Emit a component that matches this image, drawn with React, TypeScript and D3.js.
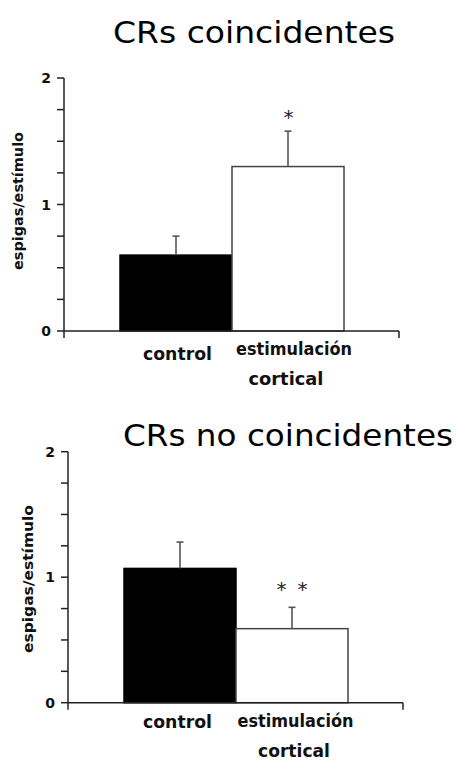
import React from "react";
import * as d3 from "d3";

// Data
const categories = ["control", "estimulación cortical"];
const coincidentMeans = [0.6, 1.3];
const coincidentErrors = [0.15, 0.28];
const coincidentMarks = ["", "*"];
const nonCoincidentMeans = [1.07, 0.59];
const nonCoincidentErrors = [0.21, 0.17];
const nonCoincidentMarks = ["", "* *"];
const majorTicks = [0, 1, 2];
const minorTicks = [0.25, 0.5, 0.75, 1.25, 1.5, 1.75];
const yLabel = "espigas/estímulo";

const W = 456;
const H = 760;
const FONT = "'Comic Sans MS', 'DejaVu Sans', sans-serif";
const AXIS_FONT = "'DejaVu Sans', 'Noto Sans', sans-serif";

type Layout = {
  axisX: number;
  yZero: number;
  yTop: number;
  xEnd: number;
  barLeft: number;
  barRight: number;
  titleX: number;
  titleY: number;
  titleLen: number;
  labelX: number;
  labelY: number;
  labelLen: number;
  catY: number;
  stimY: number;
  cortY: number;
  ctrlX: number;
  stimX: number;
  cortX: number;
  cortLen: number;
  markGap: number;
  markLen: number[];
};

function Panel({
  title,
  means,
  errors,
  marks,
  L,
}: {
  title: string;
  means: number[];
  errors: number[];
  marks: string[];
  L: Layout;
}) {
  const y = d3.scaleLinear().domain([0, 2]).range([L.yZero, L.yTop]);
  const x = d3
    .scaleBand<string>()
    .domain(categories)
    .range([L.barLeft, L.barRight])
    .paddingInner(0)
    .paddingOuter(0);
  const bw = x.bandwidth();
  const fills = ["#000", "#fff"];
  const axisColor = "#222";
  const [stimWord, cortWord] = categories[1].split(" ");

  return (
    <g>
      <text
        x={L.titleX}
        y={L.titleY}
        fontFamily={FONT}
        fontSize={31}
        textLength={L.titleLen}
        lengthAdjust="spacingAndGlyphs"
        fill="#000"
      >
        {title}
      </text>

      {/* bars */}
      {categories.map((c, i) => (
        <rect
          key={c}
          x={x(c)!}
          y={y(means[i])}
          width={bw}
          height={y(0) - y(means[i])}
          fill={fills[i]}
          stroke={i === 0 ? "#000" : "#444"}
          strokeWidth={1.5}
        />
      ))}

      {/* error bars */}
      {categories.map((c, i) => {
        const cx = x(c)! + bw / 2;
        return (
          <g key={c + "-err"} stroke="#555" strokeWidth={1.6}>
            <line x1={cx} x2={cx} y1={y(means[i])} y2={y(means[i] + errors[i])} />
            <line x1={cx - 3.5} x2={cx + 3.5} y1={y(means[i] + errors[i])} y2={y(means[i] + errors[i])} />
          </g>
        );
      })}

      {/* significance marks */}
      {categories.map((c, i) =>
        marks[i] ? (
          <text
            key={c + "-mark"}
            x={x(c)! + bw / 2 - L.markLen[i] / 2}
            y={y(means[i] + errors[i]) - L.markGap}
            fontFamily={AXIS_FONT}
            fontSize={20}
            fill="#222"
            textLength={L.markLen[i]}
            lengthAdjust="spacing"
            style={{ whiteSpace: "pre" }}
          >
            {marks[i]}
          </text>
        ) : null
      )}

      {/* axes */}
      <g stroke={axisColor} strokeWidth={1.5} fill="none">
        <line x1={L.axisX} x2={L.axisX} y1={L.yTop} y2={L.yZero + 7} />
        <line x1={L.axisX} x2={L.xEnd} y1={L.yZero} y2={L.yZero} />
        <line x1={L.xEnd} x2={L.xEnd} y1={L.yZero} y2={L.yZero + 7} />
        {majorTicks.concat(minorTicks).map((t) => (
          <line key={t} x1={L.axisX - 7} x2={L.axisX} y1={y(t)} y2={y(t)} />
        ))}
      </g>
      {majorTicks.map((t) => (
        <text
          key={"l" + t}
          x={L.axisX - 13}
          y={y(t) + 5}
          textAnchor="end"
          fontFamily={AXIS_FONT}
          fontWeight="bold"
          fontSize={14}
          fill="#111"
        >
          {t}
        </text>
      ))}

      <text
        transform={`translate(${L.labelX},${L.labelY}) rotate(-90)`}
        x={-L.labelLen / 2}
        fontFamily={AXIS_FONT}
        fontWeight="bold"
        fontSize={14}
        textLength={L.labelLen}
        lengthAdjust="spacingAndGlyphs"
        fill="#111"
      >
        {yLabel}
      </text>

      {/* category labels */}
      <text x={L.ctrlX - 34.5} y={L.catY} textLength={69} lengthAdjust="spacingAndGlyphs"
        fontFamily={FONT} fontSize={17} fontWeight="bold" fill="#111">
        {categories[0]}
      </text>
      <text x={L.stimX - 58} y={L.stimY} textLength={116} lengthAdjust="spacingAndGlyphs"
        fontFamily={FONT} fontSize={17} fontWeight="bold" fill="#111">
        {stimWord}
      </text>
      <text x={L.cortX - L.cortLen / 2} y={L.cortY} textLength={L.cortLen} lengthAdjust="spacingAndGlyphs"
        fontFamily={FONT} fontSize={17} fontWeight="bold" fill="#111">
        {cortWord}
      </text>
    </g>
  );
}

const topLayout: Layout = {
  axisX: 64,
  yZero: 331,
  yTop: 78,
  xEnd: 399,
  barLeft: 120,
  barRight: 344,
  titleX: 113,
  titleY: 43,
  titleLen: 282,
  labelX: 23,
  labelY: 201,
  labelLen: 138,
  catY: 360,
  stimY: 355,
  cortY: 385,
  ctrlX: 177.5,
  stimX: 294,
  cortX: 286,
  cortLen: 75,
  markGap: 7,
  markLen: [0, 9],
};

const bottomLayout: Layout = {
  axisX: 68,
  yZero: 702.7,
  yTop: 451.7,
  xEnd: 403,
  barLeft: 124,
  barRight: 348,
  titleX: 123,
  titleY: 446,
  titleLen: 330,
  labelX: 33,
  labelY: 579,
  labelLen: 148,
  catY: 728,
  stimY: 727,
  cortY: 757,
  ctrlX: 177.5,
  stimX: 295.5,
  cortX: 294,
  cortLen: 72,
  markGap: 11,
  markLen: [0, 31],
};

export default function App() {
  return (
    <svg width={W} height={H} style={{ position: "absolute", left: 0, top: 0, background: "#fff" }}>
      <rect width={W} height={H} fill="#fff" />
      <Panel
        title="CRs coincidentes"
        means={coincidentMeans}
        errors={coincidentErrors}
        marks={coincidentMarks}
        L={topLayout}
      />
      <Panel
        title="CRs no coincidentes"
        means={nonCoincidentMeans}
        errors={nonCoincidentErrors}
        marks={nonCoincidentMarks}
        L={bottomLayout}
      />
    </svg>
  );
}
